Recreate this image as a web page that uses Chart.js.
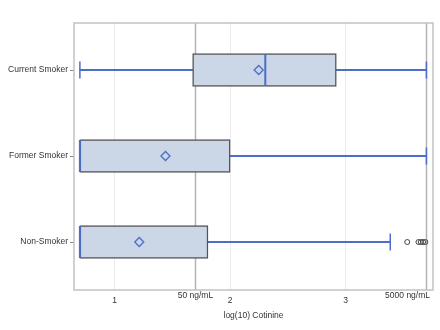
<!DOCTYPE html>
<html>
<head>
<meta charset="utf-8">
<script src="https://cdn.jsdelivr.net/npm/chart.js@4/dist/chart.umd.min.js"></script>
<style>
  html, body { margin: 0; padding: 0; background: #fff; }
  #wrap { width: 440px; height: 330px; }
</style>
</head>
<body>
<div id="wrap"><canvas id="c" width="440" height="330"></canvas></div>
<script>
// Groups (top to bottom) and log10 cotinine summaries
const groups   = ['Current Smoker', 'Former Smoker', 'Non-Smoker'];
const whiskLow = [0.699, 0.699, 0.699];
const q1       = [1.675, 0.699, 0.699];
const median   = [2.304, 0.699, 0.699];
const q3       = [2.919, 2.000, 1.808];
const whiskHi  = [3.699, 3.699, 3.386];
const means    = [2.247, 1.440, 1.213];
// Outliers beyond the upper whisker (Non-Smoker only)
const outlierGroup  = [2, 2, 2, 2, 2];
const outlierValues = [3.533, 3.630, 3.650, 3.670, 3.690];
// X axis ticks and labelled reference lines
const xTicks    = [1, 2, 3];
const refValues = [Math.log10(50), Math.log10(5000)];
const refLabels = ['50 ng/mL', '5000 ng/mL'];

const FONT = 'Liberation Sans, Arial, Helvetica, sans-serif';
const FSIZE = 8.5;
const BLUE = '#4c6ec8';
const BOX_FILL = '#cbd6e7';
const BOX_EDGE = '#555555';

const idx = groups.map((_, i) => i);

function noPadding(s) {
  s.paddingLeft = 0; s.paddingRight = 0; s.paddingTop = 0; s.paddingBottom = 0;
}

// Reference lines, their labels and the frame round the plot area
const framePlugin = {
  id: 'frameAndRefs',
  beforeDatasetsDraw(chart) {
    const { ctx, chartArea: a, scales: { x } } = chart;
    ctx.save();
    ctx.strokeStyle = '#b3b3b3';
    ctx.lineWidth = 1.5;
    refValues.forEach(v => {
      const px = Math.round(x.getPixelForValue(v)) + 0.5;
      ctx.beginPath();
      ctx.moveTo(px, a.top);
      ctx.lineTo(px, a.bottom);
      ctx.stroke();
    });
    ctx.restore();
  },
  afterDraw(chart) {
    const { ctx, chartArea: a, scales: { x } } = chart;
    ctx.save();
    ctx.strokeStyle = '#c2c2c2';
    ctx.lineWidth = 1.5;
    ctx.strokeRect(a.left, a.top, a.right - a.left, a.bottom - a.top);
    ctx.font = FSIZE + 'px ' + FONT;
    ctx.fillStyle = '#333';
    ctx.textBaseline = 'middle';
    ctx.textAlign = 'center';
    refValues.forEach((v, i) => {
      const w = ctx.measureText(refLabels[i]).width;
      let cx = x.getPixelForValue(v);
      if (cx + w / 2 > a.right - 3) cx = a.right - 3 - w / 2;
      ctx.fillText(refLabels[i], cx, a.bottom + 6);
    });
    ctx.restore();
  }
};

const chart = new Chart(document.getElementById('c'), {
  data: {
    datasets: [
      {
        // whisker line from low to high whisker, behind the box
        type: 'bar',
        data: idx.map(i => ({ y: i, x: [whiskLow[i], whiskHi[i]] })),
        backgroundColor: BLUE,
        borderWidth: 0,
        barThickness: 1.5,
        grouped: false,
        order: 5
      },
      {
        // interquartile box
        type: 'bar',
        data: idx.map(i => ({ y: i, x: [q1[i], q3[i]] })),
        backgroundColor: BOX_FILL,
        borderColor: BOX_EDGE,
        borderWidth: 1.5,
        borderSkipped: false,
        barThickness: 33,
        grouped: false,
        order: 4
      },
      {
        // whisker caps
        type: 'scatter',
        data: idx.flatMap(i => [{ x: whiskLow[i], y: i }, { x: whiskHi[i], y: i }]),
        pointStyle: 'line',
        rotation: 90,
        radius: 8.5,
        borderColor: BLUE,
        borderWidth: 1.5,
        order: 3
      },
      {
        // medians
        type: 'scatter',
        data: idx.map(i => ({ x: median[i], y: i })),
        pointStyle: 'line',
        rotation: 90,
        radius: 16,
        borderColor: BLUE,
        borderWidth: 2,
        order: 2
      },
      {
        // means
        type: 'scatter',
        data: idx.map(i => ({ x: means[i], y: i })),
        pointStyle: 'rectRot',
        radius: 4.5,
        backgroundColor: 'rgba(0,0,0,0)',
        borderColor: BLUE,
        borderWidth: 1.3,
        order: 1
      },
      {
        // outliers
        type: 'scatter',
        data: outlierValues.map((v, k) => ({ x: v, y: outlierGroup[k] })),
        pointStyle: 'circle',
        radius: 2.5,
        backgroundColor: 'rgba(0,0,0,0)',
        borderColor: '#444',
        borderWidth: 1,
        order: 0
      }
    ]
  },
  options: {
    indexAxis: 'y',
    responsive: false,
    animation: false,
    events: [],
    layout: { autoPadding: false, padding: { top: 23, right: 7, left: 0, bottom: 9 } },
    plugins: { legend: { display: false }, tooltip: { enabled: false } },
    scales: {
      x: {
        type: 'linear',
        min: 0.648,
        max: 3.756,
        offset: false,
        afterBuildTicks(s) { s.ticks = xTicks.map(v => ({ value: v })); },
        afterFit(s) { s.height = 31; noPadding(s); },
        grid: { color: '#ebebeb', lineWidth: 1, drawTicks: false, offset: false },
        border: { display: false },
        ticks: {
          color: '#333',
          padding: 6,
          font: { family: FONT, size: FSIZE },
          maxRotation: 0
        },
        title: {
          display: true,
          text: 'log(10) Cotinine',
          color: '#333',
          font: { family: FONT, size: FSIZE },
          padding: { top: 4, bottom: 0 }
        }
      },
      y: {
        type: 'linear',
        reverse: true,
        offset: false,
        min: -0.547,
        max: 2.558,
        afterBuildTicks(s) { s.ticks = idx.map(v => ({ value: v })); },
        afterFit(s) { s.width = 74; noPadding(s); },
        grid: { drawOnChartArea: false, drawTicks: true, tickLength: 4, color: '#888', offset: false },
        border: { display: false },
        ticks: {
          color: '#333',
          padding: 2,
          font: { family: FONT, size: FSIZE },
          callback: v => groups[v]
        }
      }
    }
  },
  plugins: [framePlugin]
});
</script>
</body>
</html>
